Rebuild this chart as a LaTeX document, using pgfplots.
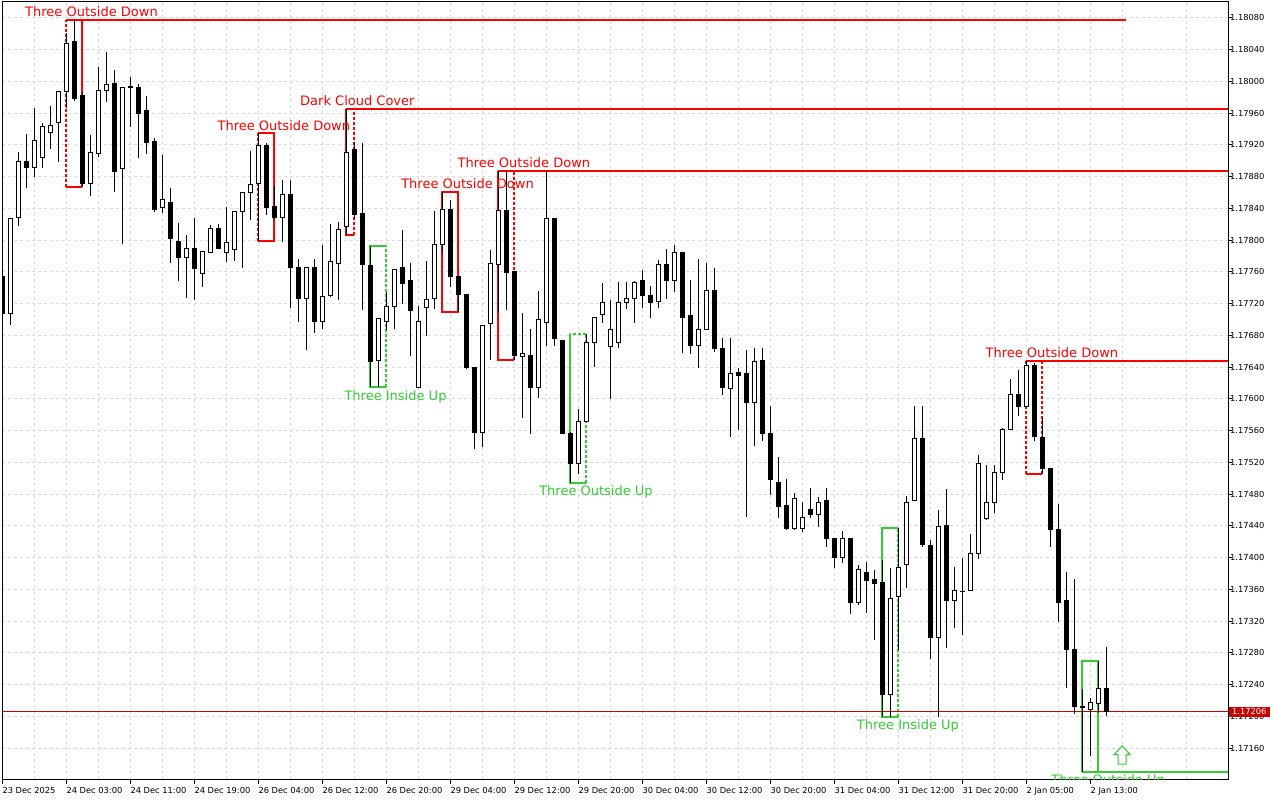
\documentclass[border=0pt]{standalone}
\usepackage{fontspec}
\setmainfont{DejaVu Sans}
\usepackage{pgfplots}
\usepackage{pgfplotstable}
\pgfplotsset{compat=1.18}

\definecolor{bull}{HTML}{32CD32}
\definecolor{bear}{HTML}{FF0000}
\definecolor{gridc}{HTML}{DCDCDC}
\definecolor{tagred}{HTML}{C80000}

\newcommand\tickfont{\fontsize{8.3}{10}\selectfont}
\newcommand\lblfont{\fontsize{13}{15}\selectfont}

% EURUSD H1 candles: index, open, high, low, close
\pgfplotstableread{
k o h l c
0 1.17754 1.17756 1.17705 1.17707
1 1.17707 1.17828 1.17693 1.17827
2 1.17828 1.17911 1.17818 1.17899
3 1.17899 1.17934 1.17866 1.17892
4 1.17892 1.17967 1.17880 1.17925
5 1.17904 1.17948 1.17891 1.17943
6 1.17936 1.17969 1.17915 1.17945
7 1.17948 1.17988 1.17899 1.17987
8 1.17987 1.18061 1.17967 1.18048
9 1.18050 1.18077 1.17975 1.17978
10 1.17982 1.17987 1.17867 1.17871
11 1.17872 1.17933 1.17856 1.17911
12 1.17909 1.18018 1.17905 1.17989
13 1.17988 1.18037 1.17974 1.17996
14 1.17997 1.18014 1.17861 1.17887
15 1.17890 1.17992 1.17795 1.17992
16 1.17992 1.18006 1.17943 1.17994
17 1.17992 1.17997 1.17904 1.17960
18 1.17963 1.17982 1.17909 1.17923
19 1.17924 1.17929 1.17836 1.17839
20 1.17841 1.17907 1.17834 1.17851
21 1.17848 1.17866 1.17771 1.17802
22 1.17798 1.17822 1.17749 1.17778
23 1.17778 1.17807 1.17727 1.17790
24 1.17790 1.17828 1.17725 1.17764
25 1.17758 1.17786 1.17741 1.17786
26 1.17785 1.17819 1.17784 1.17815
27 1.17815 1.17820 1.17789 1.17789
28 1.17784 1.17842 1.17773 1.17797
29 1.17788 1.17836 1.17774 1.17836
30 1.17836 1.17861 1.17765 1.17860
31 1.17860 1.17912 1.17826 1.17870
32 1.17871 1.17935 1.17799 1.17919
33 1.17919 1.17923 1.17832 1.17841
34 1.17842 1.17868 1.17826 1.17829
35 1.17829 1.17876 1.17798 1.17858
36 1.17858 1.17876 1.17715 1.17765
37 1.17765 1.17776 1.17697 1.17726
38 1.17727 1.17766 1.17662 1.17766
39 1.17765 1.17776 1.17683 1.17698
40 1.17697 1.17794 1.17688 1.17729
41 1.17730 1.17820 1.17729 1.17773
42 1.17771 1.17823 1.17725 1.17814
43 1.17817 1.17965 1.17807 1.17911
44 1.17914 1.17924 1.17828 1.17832
45 1.17834 1.17923 1.17712 1.17769
46 1.17768 1.17793 1.17615 1.17647
47 1.17648 1.17701 1.17615 1.17701
48 1.17697 1.17735 1.17687 1.17716
49 1.17716 1.17763 1.17688 1.17763
50 1.17765 1.17813 1.17720 1.17746
51 1.17749 1.17771 1.17654 1.17711
52 1.17615 1.17717 1.17615 1.17697
53 1.17715 1.17774 1.17679 1.17725
54 1.17726 1.17837 1.17713 1.17794
55 1.17795 1.17861 1.17784 1.17839
56 1.17839 1.17851 1.17741 1.17754
57 1.17754 1.17754 1.17710 1.17732
58 1.17732 1.17732 1.17638 1.17640
59 1.17639 1.17639 1.17537 1.17558
60 1.17558 1.17692 1.17540 1.17692
61 1.17695 1.17788 1.17649 1.17770
62 1.17769 1.17887 1.17708 1.17837
63 1.17837 1.17887 1.17712 1.17759
64 1.17760 1.17760 1.17649 1.17655
65 1.17653 1.17708 1.17576 1.17657
66 1.17655 1.17688 1.17556 1.17615
67 1.17615 1.17736 1.17601 1.17700
68 1.17696 1.17887 1.17667 1.17827
69 1.17827 1.17827 1.17667 1.17676
70 1.17673 1.17673 1.17557 1.17557
71 1.17557 1.17558 1.17494 1.17519
72 1.17519 1.17587 1.17506 1.17572
73 1.17572 1.17682 1.17572 1.17671
74 1.17671 1.17702 1.17640 1.17702
75 1.17706 1.17746 1.17696 1.17722
76 1.17666 1.17725 1.17600 1.17688
77 1.17671 1.17747 1.17664 1.17722
78 1.17722 1.17747 1.17713 1.17727
79 1.17726 1.17749 1.17696 1.17747
80 1.17749 1.17763 1.17715 1.17730
81 1.17730 1.17742 1.17702 1.17721
82 1.17723 1.17775 1.17715 1.17769
83 1.17769 1.17789 1.17726 1.17749
84 1.17749 1.17794 1.17735 1.17784
85 1.17784 1.17784 1.17658 1.17702
86 1.17705 1.17750 1.17657 1.17667
87 1.17667 1.17776 1.17639 1.17688
88 1.17688 1.17771 1.17687 1.17736
89 1.17736 1.17765 1.17659 1.17663
90 1.17664 1.17677 1.17605 1.17614
91 1.17613 1.17677 1.17552 1.17632
92 1.17633 1.17639 1.17561 1.17630
93 1.17632 1.17662 1.17451 1.17595
94 1.17595 1.17664 1.17541 1.17647
95 1.17649 1.17664 1.17547 1.17557
96 1.17557 1.17591 1.17479 1.17499
97 1.17495 1.17527 1.17450 1.17464
98 1.17466 1.17499 1.17435 1.17437
99 1.17437 1.17482 1.17435 1.17475
100 1.17437 1.17470 1.17432 1.17451
101 1.17461 1.17488 1.17450 1.17455
102 1.17455 1.17477 1.17439 1.17470
103 1.17472 1.17488 1.17414 1.17424
104 1.17424 1.17424 1.17387 1.17400
105 1.17400 1.17434 1.17393 1.17424
106 1.17424 1.17424 1.17329 1.17343
107 1.17343 1.17391 1.17340 1.17385
108 1.17382 1.17395 1.17330 1.17371
109 1.17372 1.17385 1.17296 1.17368
110 1.17369 1.17397 1.17199 1.17228
111 1.17228 1.17387 1.17199 1.17349
112 1.17351 1.17437 1.17284 1.17388
113 1.17391 1.17478 1.17362 1.17470
114 1.17472 1.17591 1.17472 1.17550
115 1.17550 1.17591 1.17414 1.17417
116 1.17415 1.17422 1.17272 1.17299
117 1.17300 1.17460 1.17199 1.17439
118 1.17440 1.17487 1.17286 1.17346
119 1.17346 1.17388 1.17312 1.17359
120 1.17358 1.17400 1.17303 1.17357
121 1.17359 1.17430 1.17358 1.17405
122 1.17405 1.17529 1.17398 1.17519
123 1.17449 1.17517 1.17448 1.17469
124 1.17469 1.17517 1.17456 1.17507
125 1.17507 1.17564 1.17498 1.17561
126 1.17562 1.17625 1.17562 1.17606
127 1.17606 1.17637 1.17579 1.17590
128 1.17590 1.17648 1.17590 1.17642
129 1.17642 1.17645 1.17547 1.17553
130 1.17552 1.17576 1.17506 1.17512
131 1.17512 1.17512 1.17414 1.17436
132 1.17436 1.17468 1.17319 1.17344
133 1.17346 1.17382 1.17236 1.17284
134 1.17284 1.17373 1.17203 1.17213
135 1.17213 1.17235 1.17130 1.17211
136 1.17209 1.17223 1.17150 1.17217
137 1.17216 1.17270 1.17204 1.17235
138 1.17235 1.17288 1.17201 1.17206
}\candles

\begin{document}
\begin{tikzpicture}
\useasboundingbox (-2pt,-20pt) rectangle (1278pt,780pt);
\begin{axis}[
  name=ax, at={(0pt,0pt)}, anchor=south west,
  width=1226pt, height=778pt, scale only axis,
  xmin=-0.04, xmax=153.2,
  ymin=1.17120, ymax=1.18100,
  % prices are mapped exactly to points above 1.17
  y coord trafo/.code={\edef\pgfmathresult{\fpeval{(#1-1.17)*100000}}},
  axis line style={black, line width=1pt},
  xtick={0,8,...,136},
  minor xtick={4,12,...,156},
  xticklabels={23 Dec 2025,24 Dec 03:00,24 Dec 11:00,24 Dec 19:00,26 Dec 04:00,26 Dec 12:00,26 Dec 20:00,29 Dec 04:00,29 Dec 12:00,29 Dec 20:00,30 Dec 04:00,30 Dec 12:00,30 Dec 20:00,31 Dec 04:00,31 Dec 12:00,31 Dec 20:00,2 Jan 05:00,2 Jan 13:00},
  ytick={1.17160,1.17200,1.17240,1.17280,1.17320,1.17360,1.17400,1.17440,1.17480,1.17520,1.17560,1.17600,1.17640,1.17680,1.17720,1.17760,1.17800,1.17840,1.17880,1.17920,1.17960,1.18000,1.18040,1.18080},
  yticklabels={1.17160,1.17200,1.17240,1.17280,1.17320,1.17360,1.17400,1.17440,1.17480,1.17520,1.17560,1.17600,1.17640,1.17680,1.17720,1.17760,1.17800,1.17840,1.17880,1.17920,1.17960,1.18000,1.18040,1.18080},
  xtick pos=left, ytick pos=right, yticklabel pos=right,
  tick align=outside, major tick length=4pt, minor tick length=0pt,
  tick style={black, line width=1pt},
  xticklabel style={font=\tickfont, anchor=north west, inner xsep=0pt},
  yticklabel style={font=\tickfont, anchor=west, inner xsep=0pt, xshift=-2pt},
  grid=both,
  major grid style={gridc, line width=1pt, dash pattern=on 3pt off 3pt},
  minor grid style={gridc, line width=1pt, dash pattern=on 3pt off 3pt},
]

% pattern boxes
\draw[bear, line width=2pt] (axis cs:10,1.17867) -- (axis cs:8,1.17867);
\draw[bear, line width=2pt, dash pattern=on 3pt off 2pt] (axis cs:8,1.17867) -- (axis cs:8,1.18077);
\draw[bear, line width=2pt] (axis cs:8,1.18077) -- (axis cs:140.46,1.18077);
\draw[bear, line width=2pt] (axis cs:10,1.18077) -- (axis cs:10,1.17867);

\draw[bear, line width=2pt] (axis cs:32,1.17935) -- (axis cs:34,1.17935) -- (axis cs:34,1.17799) -- (axis cs:32,1.17799);
\draw[bear, line width=2pt, dash pattern=on 3pt off 2pt] (axis cs:32,1.17799) -- (axis cs:32,1.17935);

\draw[bear, line width=2pt] (axis cs:43,1.17965) -- (axis cs:154,1.17965);
\draw[bear, line width=2pt] (axis cs:43,1.17965) -- (axis cs:43,1.17807) -- (axis cs:44,1.17807);
\draw[bear, line width=2pt, dash pattern=on 3pt off 2pt] (axis cs:44,1.17807) -- (axis cs:44,1.17965);

\draw[bull, line width=2pt] (axis cs:48,1.17793) -- (axis cs:46,1.17793) -- (axis cs:46,1.17615) -- (axis cs:48,1.17615);
\draw[bull, line width=2pt, dash pattern=on 3pt off 2pt] (axis cs:48,1.17615) -- (axis cs:48,1.17793);

\draw[bear, line width=2pt] (axis cs:55,1.17861) rectangle (axis cs:57,1.17710);

\draw[bear, line width=2pt] (axis cs:62,1.17887) -- (axis cs:154,1.17887);
\draw[bear, line width=2pt] (axis cs:62,1.17887) -- (axis cs:62,1.17649) -- (axis cs:64,1.17649);
\draw[bear, line width=2pt, dash pattern=on 3pt off 2pt] (axis cs:64,1.17649) -- (axis cs:64,1.17887);

\draw[bull, line width=2pt] (axis cs:71,1.17682) -- (axis cs:71,1.17494) -- (axis cs:73,1.17494);
\draw[bull, line width=2pt, dash pattern=on 3pt off 2pt] (axis cs:73,1.17494) -- (axis cs:73,1.17682) -- (axis cs:71,1.17682);

\draw[bull, line width=2pt] (axis cs:112,1.17437) -- (axis cs:110,1.17437) -- (axis cs:110,1.17199) -- (axis cs:112,1.17199);
\draw[bull, line width=2pt, dash pattern=on 3pt off 2pt] (axis cs:112,1.17199) -- (axis cs:112,1.17437);

\draw[bear, line width=2pt] (axis cs:128,1.17648) -- (axis cs:154,1.17648);
\draw[bear, line width=2pt] (axis cs:128,1.17506) -- (axis cs:130,1.17506);
\draw[bear, line width=2pt, dash pattern=on 3pt off 2pt] (axis cs:128,1.17506) -- (axis cs:128,1.17648);
\draw[bear, line width=2pt, dash pattern=on 3pt off 2pt] (axis cs:130,1.17506) -- (axis cs:130,1.17648);

\draw[bull, line width=2pt] (axis cs:135,1.17130) -- (axis cs:154,1.17130);
\draw[bull, line width=2pt] (axis cs:135,1.17130) -- (axis cs:135,1.17270) -- (axis cs:137,1.17270) -- (axis cs:137,1.17130);

% current price line
\draw[tagred, line width=1pt] (axis cs:-1,1.17206) -- (axis cs:154,1.17206);

% candles
\pgfplotstablegetrowsof{\candles}
\pgfmathtruncatemacro{\lastrow}{\pgfplotsretval-1}
\pgfplotsinvokeforeach{0,...,\lastrow}{%
  \pgfplotstablegetelem{#1}{k}\of\candles\let\cK\pgfplotsretval
  \pgfplotstablegetelem{#1}{o}\of\candles\let\cO\pgfplotsretval
  \pgfplotstablegetelem{#1}{h}\of\candles\let\cH\pgfplotsretval
  \pgfplotstablegetelem{#1}{l}\of\candles\let\cL\pgfplotsretval
  \pgfplotstablegetelem{#1}{c}\of\candles\let\cC\pgfplotsretval
  \edef\xl{\fpeval{\cK-0.27}}%
  \edef\xr{\fpeval{\cK+0.27}}%
  \ifnum\fpeval{\cC>=\cO}=1 \def\bfill{white}\else\def\bfill{black}\fi
  \edef\tmp{\noexpand\draw[black, line width=1pt] (axis cs:\cK,\cL) -- (axis cs:\cK,\cH);
    \noexpand\filldraw[draw=black, fill=\bfill, line width=1pt] (axis cs:\xl,\cO) rectangle (axis cs:\xr,\cC);}%
  \tmp
}

% up arrow
\draw[bull, fill=white, line width=1pt] (axis cs:139.96,1.17163) -- (axis cs:140.96,1.17152) -- (axis cs:140.46,1.17152) -- (axis cs:140.46,1.17140) -- (axis cs:139.46,1.17140) -- (axis cs:139.46,1.17152) -- (axis cs:138.96,1.17152) -- cycle;

% pattern labels
\begin{scope}[every node/.style={font=\lblfont, anchor=base west, inner sep=0pt}]
\node[text=bear] at (axis cs:2.84,1.180816) {Three Outside Down};
\node[text=bear] at (axis cs:37.21,1.17969) {Dark Cloud Cover};
\node[text=bear] at (axis cs:26.88,1.179376) {Three Outside Down};
\node[text=bear] at (axis cs:56.88,1.178914) {Three Outside Down};
\node[text=bear] at (axis cs:49.84,1.17865) {Three Outside Down};
\node[text=bull] at (axis cs:42.75,1.175984) {Three Inside Up};
\node[text=bull] at (axis cs:67.09,1.174778) {Three Outside Up};
\node[text=bull] at (axis cs:106.8,1.171839) {Three Inside Up};
\node[text=bear] at (axis cs:122.88,1.17652) {Three Outside Down};
\node[text=bull] at (axis cs:131.09,1.171145) {Three Outside Up};
\end{scope}

\coordinate (tagpt) at (axis cs:0,1.17206);
\coordinate (redge) at (rel axis cs:1,0);
\end{axis}
\node[fill=tagred, text=white, font=\tickfont, inner xsep=3pt, inner ysep=2pt, anchor=west] at ([xshift=1pt]tagpt -| redge) {1.17206};
\end{tikzpicture}
\end{document}
